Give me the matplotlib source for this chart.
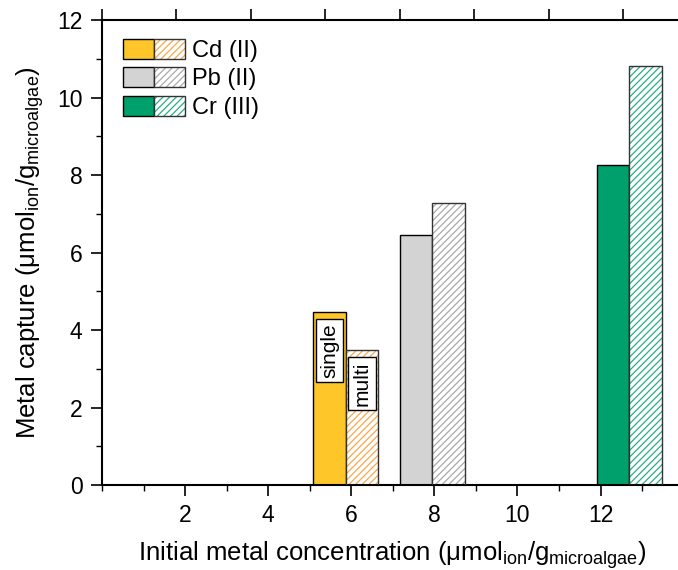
import matplotlib
matplotlib.use("Agg")
import matplotlib.pyplot as plt
from matplotlib.patches import Rectangle
from matplotlib.ticker import MultipleLocator

plt.rcParams['font.family'] = ['Liberation Sans', 'DejaVu Sans']
plt.rcParams['mathtext.fontset'] = 'custom'
plt.rcParams['mathtext.rm'] = 'Liberation Sans'
plt.rcParams['hatch.linewidth'] = 0.9

# data
metals = ["Cd (II)", "Pb (II)", "Cr (III)"]
concentration = [5.87, 7.95, 12.69]
single = [4.47, 6.45, 8.27]
multi = [3.48, 7.28, 10.82]
fill_colors = ["#FFC62A", "#D3D3D3", "#00A06C"]
hatch_colors = ["#F9A84A", "#AAAAAA", "#2AAE84"]
bar_w = 0.78

fig = plt.figure(figsize=(6.78, 5.70), dpi=100)
ax = fig.add_axes([0.1504, 0.1491, 0.858, 0.8158])

for x, s, m, fc, hc in zip(concentration, single, multi, fill_colors, hatch_colors):
    ax.bar(x - bar_w / 2, s, width=bar_w, color=fc, edgecolor='black', linewidth=1.0, zorder=2)
    ax.bar(x + bar_w / 2, m, width=bar_w, color='white', edgecolor=hc, linewidth=0,
           hatch='/////', zorder=2)
    ax.bar(x + bar_w / 2, m, width=bar_w, fill=False, edgecolor='#333333', linewidth=1.0, zorder=3)

# single / multi labels on Cd bars
box = dict(boxstyle='square,pad=0.2', facecolor='white', edgecolor='black', linewidth=1)
ax.annotate("single", xy=(concentration[0] - bar_w / 2, single[0]), xytext=(0, -8),
            textcoords='offset points', rotation=90, ha='center', va='top',
            fontsize=15, bbox=box, zorder=4)
ax.annotate("multi", xy=(concentration[0] + bar_w / 2, multi[0]), xytext=(0, -8),
            textcoords='offset points', rotation=90, ha='center', va='top',
            fontsize=15, bbox=box, zorder=4)

ax.set_xlim(0, 14)
ax.set_ylim(0, 12)
ax.xaxis.set_major_locator(MultipleLocator(2))
ax.xaxis.set_minor_locator(MultipleLocator(1))
ax.yaxis.set_major_locator(MultipleLocator(2))
ax.yaxis.set_minor_locator(MultipleLocator(1))
ax.set_xticks([2, 4, 6, 8, 10, 12])
ax.tick_params(which='major', direction='out', length=8, width=1.2, labelsize=16.5, pad=6)
ax.tick_params(which='minor', direction='out', length=4.5, width=1.0)
ax.spines['right'].set_visible(False)
for sp in ['left', 'bottom', 'top']:
    ax.spines[sp].set_linewidth(1.5)

# top axis with its own ticks
top = ax.twiny()
top.set_xlim(0, 7.81)
top.xaxis.set_major_locator(MultipleLocator(1))
top.tick_params(axis='x', direction='out', length=8, width=1.2, labeltop=False)
for sp in top.spines.values():
    sp.set_visible(False)

ax.set_xlabel("Initial metal concentration (μmol$_\\mathregular{ion}$/g$_\\mathregular{microalgae}$)",
              fontsize=18.5, labelpad=8)
ax.set_ylabel("Metal capture (μmol$_\\mathregular{ion}$/g$_\\mathregular{microalgae}$)",
              fontsize=18.5, labelpad=8)


class PairHandler:
    def __init__(self, fc, hc):
        self.fc = fc
        self.hc = hc

    def legend_artist(self, legend, orig_handle, fontsize, handlebox):
        x0, y0 = -handlebox.xdescent, -handlebox.ydescent
        w, h = handlebox.width, handlebox.height
        tr = handlebox.get_transform()
        a = Rectangle((x0, y0), w / 2, h, facecolor=self.fc, edgecolor='black', lw=1, transform=tr)
        b = Rectangle((x0 + w / 2, y0), w / 2, h, facecolor='white', edgecolor=self.hc, lw=0,
                      hatch='/////', transform=tr)
        c = Rectangle((x0 + w / 2, y0), w / 2, h, fill=False, edgecolor='#333333', lw=1, transform=tr)
        for p in (a, b, c):
            handlebox.add_artist(p)
        return a


handles = [Rectangle((0, 0), 1, 1) for _ in metals]
hmap = {h: PairHandler(fc, hc) for h, fc, hc in zip(handles, fill_colors, hatch_colors)}
ax.legend(handles, metals, handler_map=hmap, loc='upper left', bbox_to_anchor=(0.037, 0.96),
          frameon=False, fontsize=17, handlelength=2.6, handleheight=0.95,
          labelspacing=0.22, handletextpad=0.3, borderaxespad=0, borderpad=0)

fig.savefig("out.png", dpi=100)
